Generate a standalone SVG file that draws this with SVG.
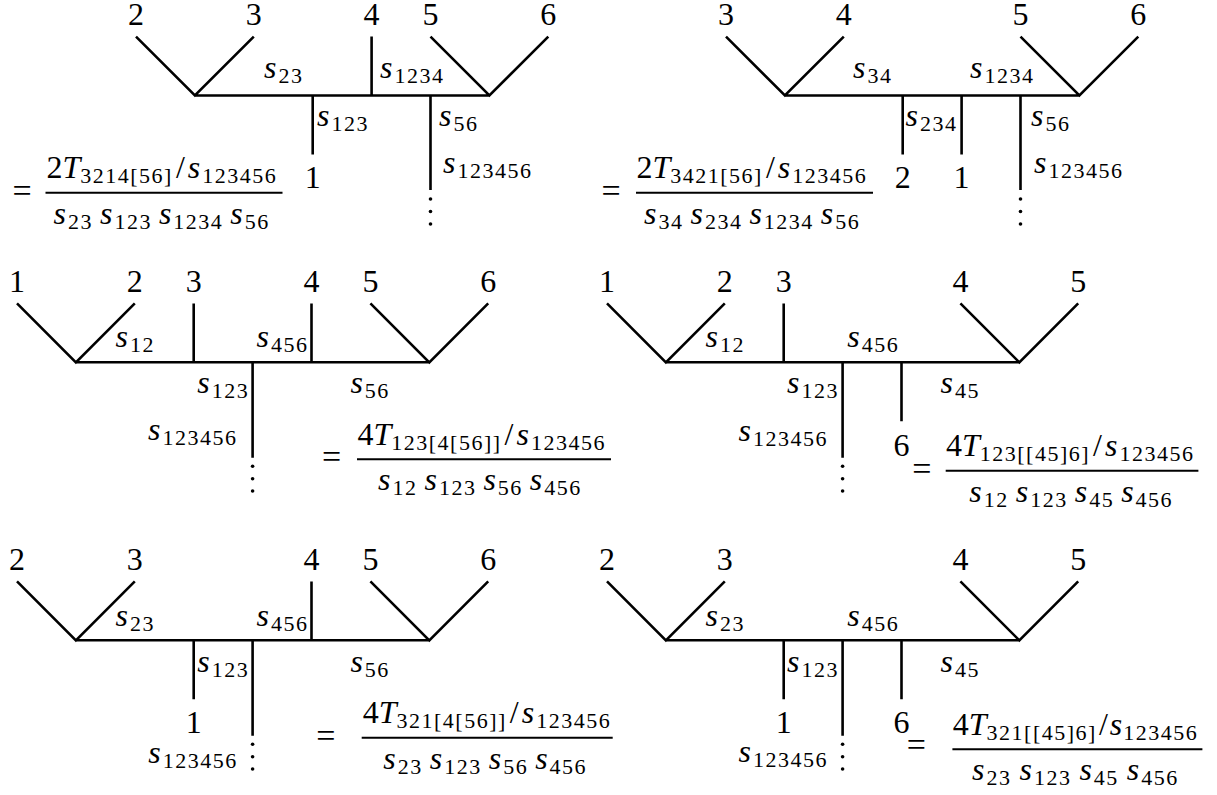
<svg xmlns="http://www.w3.org/2000/svg" width="1217" height="795" viewBox="0 0 1217 795">
<style>
.ln{stroke:#000;stroke-width:2.6;fill:none}
.bar{stroke:#000;stroke-width:2;fill:none}
.dot{fill:#000}
</style>
<rect width="1217" height="795" fill="#fff"/>
<g id="connectors">
<path class="ln" d="M136,36.6 L194.9,95.5 L253.8,36.6 M194.9,95.5 H489.4 M371.6,36.6 V95.5 M430.5,36.6 L489.4,95.5 L548.3,36.6 M312.7,95.5 V154.4 M430.5,95.5 V190"/>
<path class="ln" d="M726,36.6 L784.9,95.5 L843.8,36.6 M784.9,95.5 H1079.4 M1020.5,36.6 L1079.4,95.5 L1138.3,36.6 M902.7,95.5 V154.4 M961.6,95.5 V154.4 M1020.5,95.5 V190"/>
<path class="ln" d="M17,303.4 L75.9,362.3 L134.8,303.4 M75.9,362.3 H429.3 M193.7,303.4 V362.3 M311.5,303.4 V362.3 M370.4,303.4 L429.3,362.3 L488.2,303.4 M252.6,362.3 V457.7"/>
<path class="ln" d="M607,303.4 L665.9,362.3 L724.8,303.4 M665.9,362.3 H1019.3 M783.7,303.4 V362.3 M960.4,303.4 L1019.3,362.3 L1078.2,303.4 M842.6,362.3 V457.7 M901.5,362.3 V421.2"/>
<path class="ln" d="M17,581.4 L75.9,640.3 L134.8,581.4 M75.9,640.3 H429.3 M311.5,581.4 V640.3 M370.4,581.4 L429.3,640.3 L488.2,581.4 M193.7,640.3 V699.2 M252.6,640.3 V735.7"/>
<path class="ln" d="M607,581.4 L665.9,640.3 L724.8,581.4 M665.9,640.3 H1019.3 M960.4,581.4 L1019.3,640.3 L1078.2,581.4 M783.7,640.3 V699.2 M842.6,640.3 V735.7 M901.5,640.3 V699.2"/>
<circle class="dot" cx="430.5" cy="199" r="1.8"/><circle class="dot" cx="430.5" cy="211.5" r="1.8"/><circle class="dot" cx="430.5" cy="224" r="1.8"/>
<circle class="dot" cx="1020.5" cy="199" r="1.8"/><circle class="dot" cx="1020.5" cy="211.5" r="1.8"/><circle class="dot" cx="1020.5" cy="224" r="1.8"/>
<circle class="dot" cx="252.6" cy="466.3" r="1.8"/><circle class="dot" cx="252.6" cy="478.7" r="1.8"/><circle class="dot" cx="252.6" cy="491" r="1.8"/>
<circle class="dot" cx="842.6" cy="466.3" r="1.8"/><circle class="dot" cx="842.6" cy="478.7" r="1.8"/><circle class="dot" cx="842.6" cy="491" r="1.8"/>
<circle class="dot" cx="252.6" cy="744.3" r="1.8"/><circle class="dot" cx="252.6" cy="756.7" r="1.8"/><circle class="dot" cx="252.6" cy="769" r="1.8"/>
<circle class="dot" cx="842.6" cy="744.3" r="1.8"/><circle class="dot" cx="842.6" cy="756.7" r="1.8"/><circle class="dot" cx="842.6" cy="769" r="1.8"/>
<line class="bar" x1="45.5" y1="192.7" x2="282.5" y2="192.7"/>
<line class="bar" x1="636" y1="192.7" x2="873" y2="192.7"/>
<line class="bar" x1="357" y1="459.3" x2="611" y2="459.3"/>
<line class="bar" x1="945.7" y1="470.7" x2="1198.4" y2="470.7"/>
<line class="bar" x1="361.7" y1="737.7" x2="612.7" y2="737.7"/>
<line class="bar" x1="952.4" y1="749.3" x2="1202.4" y2="749.3"/>
</g>
<g id="panel1">
<text x="136" y="25" font-family="Liberation Serif" font-size="32" text-anchor="middle">2</text>
<text x="253.8" y="25" font-family="Liberation Serif" font-size="32" text-anchor="middle">3</text>
<text x="371.6" y="25" font-family="Liberation Serif" font-size="32" text-anchor="middle">4</text>
<text x="430.5" y="25" font-family="Liberation Serif" font-size="32" text-anchor="middle">5</text>
<text x="548.3" y="25" font-family="Liberation Serif" font-size="32" text-anchor="middle">6</text>
<text x="312.7" y="188" font-family="Liberation Serif" font-size="32" text-anchor="middle">1</text>
<text x="264" y="78" font-family="Liberation Serif" font-size="32"><tspan font-style="italic">s</tspan><tspan font-size="22" dx="2" dy="5" letter-spacing="1.5">23</tspan></text>
<text x="380" y="78" font-family="Liberation Serif" font-size="32"><tspan font-style="italic">s</tspan><tspan font-size="22" dx="2" dy="5" letter-spacing="1.5">1234</tspan></text>
<text x="317" y="126" font-family="Liberation Serif" font-size="32"><tspan font-style="italic">s</tspan><tspan font-size="22" dx="2" dy="5" letter-spacing="1.5">123</tspan></text>
<text x="439" y="126" font-family="Liberation Serif" font-size="32"><tspan font-style="italic">s</tspan><tspan font-size="22" dx="2" dy="5" letter-spacing="1.5">56</tspan></text>
<text x="443" y="173" font-family="Liberation Serif" font-size="32"><tspan font-style="italic">s</tspan><tspan font-size="22" dx="2" dy="5" letter-spacing="1.5">123456</tspan></text>
<text x="22" y="201.7" font-family="Liberation Serif" font-size="34" text-anchor="middle">=</text>
<text x="46.5" y="178.2" font-family="Liberation Serif" font-size="32">2<tspan font-style="italic">T</tspan><tspan font-size="22" dy="5" letter-spacing="1.5">3214[56]</tspan><tspan dx="3" dy="-5">/</tspan><tspan font-style="italic" dx="3">s</tspan><tspan font-size="22" dx="2" dy="5" letter-spacing="1.5">123456</tspan></text>
<text x="53.5" y="223.7" font-family="Liberation Serif" font-size="32"><tspan font-style="italic">s</tspan><tspan font-size="22" dx="2" dy="5" letter-spacing="1.5">23</tspan><tspan font-style="italic" dx="7" dy="-5">s</tspan><tspan font-size="22" dx="2" dy="5" letter-spacing="1.5">123</tspan><tspan font-style="italic" dx="7" dy="-5">s</tspan><tspan font-size="22" dx="2" dy="5" letter-spacing="1.5">1234</tspan><tspan font-style="italic" dx="7" dy="-5">s</tspan><tspan font-size="22" dx="2" dy="5" letter-spacing="1.5">56</tspan></text>
</g>
<g id="panel2">
<text x="726" y="25" font-family="Liberation Serif" font-size="32" text-anchor="middle">3</text>
<text x="843.8" y="25" font-family="Liberation Serif" font-size="32" text-anchor="middle">4</text>
<text x="1020.5" y="25" font-family="Liberation Serif" font-size="32" text-anchor="middle">5</text>
<text x="1138.3" y="25" font-family="Liberation Serif" font-size="32" text-anchor="middle">6</text>
<text x="902.7" y="188" font-family="Liberation Serif" font-size="32" text-anchor="middle">2</text>
<text x="961.6" y="188" font-family="Liberation Serif" font-size="32" text-anchor="middle">1</text>
<text x="853" y="78" font-family="Liberation Serif" font-size="32"><tspan font-style="italic">s</tspan><tspan font-size="22" dx="2" dy="5" letter-spacing="1.5">34</tspan></text>
<text x="970" y="78" font-family="Liberation Serif" font-size="32"><tspan font-style="italic">s</tspan><tspan font-size="22" dx="2" dy="5" letter-spacing="1.5">1234</tspan></text>
<text x="905.5" y="126" font-family="Liberation Serif" font-size="32"><tspan font-style="italic">s</tspan><tspan font-size="22" dx="2" dy="5" letter-spacing="1.5">234</tspan></text>
<text x="1031" y="126" font-family="Liberation Serif" font-size="32"><tspan font-style="italic">s</tspan><tspan font-size="22" dx="2" dy="5" letter-spacing="1.5">56</tspan></text>
<text x="1034" y="173" font-family="Liberation Serif" font-size="32"><tspan font-style="italic">s</tspan><tspan font-size="22" dx="2" dy="5" letter-spacing="1.5">123456</tspan></text>
<text x="611" y="201.7" font-family="Liberation Serif" font-size="34" text-anchor="middle">=</text>
<text x="636.5" y="178.2" font-family="Liberation Serif" font-size="32">2<tspan font-style="italic">T</tspan><tspan font-size="22" dy="5" letter-spacing="1.5">3421[56]</tspan><tspan dx="3" dy="-5">/</tspan><tspan font-style="italic" dx="3">s</tspan><tspan font-size="22" dx="2" dy="5" letter-spacing="1.5">123456</tspan></text>
<text x="644" y="223.7" font-family="Liberation Serif" font-size="32"><tspan font-style="italic">s</tspan><tspan font-size="22" dx="2" dy="5" letter-spacing="1.5">34</tspan><tspan font-style="italic" dx="7" dy="-5">s</tspan><tspan font-size="22" dx="2" dy="5" letter-spacing="1.5">234</tspan><tspan font-style="italic" dx="7" dy="-5">s</tspan><tspan font-size="22" dx="2" dy="5" letter-spacing="1.5">1234</tspan><tspan font-style="italic" dx="7" dy="-5">s</tspan><tspan font-size="22" dx="2" dy="5" letter-spacing="1.5">56</tspan></text>
</g>
<g id="panel3">
<text x="17" y="292" font-family="Liberation Serif" font-size="32" text-anchor="middle">1</text>
<text x="134.8" y="292" font-family="Liberation Serif" font-size="32" text-anchor="middle">2</text>
<text x="193.7" y="292" font-family="Liberation Serif" font-size="32" text-anchor="middle">3</text>
<text x="311.5" y="292" font-family="Liberation Serif" font-size="32" text-anchor="middle">4</text>
<text x="370.4" y="292" font-family="Liberation Serif" font-size="32" text-anchor="middle">5</text>
<text x="488.2" y="292" font-family="Liberation Serif" font-size="32" text-anchor="middle">6</text>
<text x="115.6" y="346.5" font-family="Liberation Serif" font-size="32"><tspan font-style="italic">s</tspan><tspan font-size="22" dx="2" dy="5" letter-spacing="1.5">12</tspan></text>
<text x="256.5" y="346.5" font-family="Liberation Serif" font-size="32"><tspan font-style="italic">s</tspan><tspan font-size="22" dx="2" dy="5" letter-spacing="1.5">456</tspan></text>
<text x="197.3" y="392.5" font-family="Liberation Serif" font-size="32"><tspan font-style="italic">s</tspan><tspan font-size="22" dx="2" dy="5" letter-spacing="1.5">123</tspan></text>
<text x="350.4" y="392.5" font-family="Liberation Serif" font-size="32"><tspan font-style="italic">s</tspan><tspan font-size="22" dx="2" dy="5" letter-spacing="1.5">56</tspan></text>
<text x="148" y="440" font-family="Liberation Serif" font-size="32"><tspan font-style="italic">s</tspan><tspan font-size="22" dx="2" dy="5" letter-spacing="1.5">123456</tspan></text>
<text x="331.7" y="468.3" font-family="Liberation Serif" font-size="34" text-anchor="middle">=</text>
<text x="357.5" y="444.8" font-family="Liberation Serif" font-size="32">4<tspan font-style="italic">T</tspan><tspan font-size="22" dy="5" letter-spacing="1.5">123[4[56]]</tspan><tspan dx="3" dy="-5">/</tspan><tspan font-style="italic" dx="3">s</tspan><tspan font-size="22" dx="2" dy="5" letter-spacing="1.5">123456</tspan></text>
<text x="378" y="490.3" font-family="Liberation Serif" font-size="32"><tspan font-style="italic">s</tspan><tspan font-size="22" dx="2" dy="5" letter-spacing="1.5">12</tspan><tspan font-style="italic" dx="7" dy="-5">s</tspan><tspan font-size="22" dx="2" dy="5" letter-spacing="1.5">123</tspan><tspan font-style="italic" dx="7" dy="-5">s</tspan><tspan font-size="22" dx="2" dy="5" letter-spacing="1.5">56</tspan><tspan font-style="italic" dx="7" dy="-5">s</tspan><tspan font-size="22" dx="2" dy="5" letter-spacing="1.5">456</tspan></text>
</g>
<g id="panel4">
<text x="607" y="292" font-family="Liberation Serif" font-size="32" text-anchor="middle">1</text>
<text x="724.8" y="292" font-family="Liberation Serif" font-size="32" text-anchor="middle">2</text>
<text x="783.7" y="292" font-family="Liberation Serif" font-size="32" text-anchor="middle">3</text>
<text x="960.4" y="292" font-family="Liberation Serif" font-size="32" text-anchor="middle">4</text>
<text x="1078.2" y="292" font-family="Liberation Serif" font-size="32" text-anchor="middle">5</text>
<text x="901.5" y="455.5" font-family="Liberation Serif" font-size="32" text-anchor="middle">6</text>
<text x="705.5" y="346.5" font-family="Liberation Serif" font-size="32"><tspan font-style="italic">s</tspan><tspan font-size="22" dx="2" dy="5" letter-spacing="1.5">12</tspan></text>
<text x="847.2" y="346.5" font-family="Liberation Serif" font-size="32"><tspan font-style="italic">s</tspan><tspan font-size="22" dx="2" dy="5" letter-spacing="1.5">456</tspan></text>
<text x="787" y="392.5" font-family="Liberation Serif" font-size="32"><tspan font-style="italic">s</tspan><tspan font-size="22" dx="2" dy="5" letter-spacing="1.5">123</tspan></text>
<text x="940.6" y="392.5" font-family="Liberation Serif" font-size="32"><tspan font-style="italic">s</tspan><tspan font-size="22" dx="2" dy="5" letter-spacing="1.5">45</tspan></text>
<text x="738.6" y="440.5" font-family="Liberation Serif" font-size="32"><tspan font-style="italic">s</tspan><tspan font-size="22" dx="2" dy="5" letter-spacing="1.5">123456</tspan></text>
<text x="921.8" y="479.7" font-family="Liberation Serif" font-size="34" text-anchor="middle">=</text>
<text x="946" y="456.2" font-family="Liberation Serif" font-size="32">4<tspan font-style="italic">T</tspan><tspan font-size="22" dy="5" letter-spacing="1.5">123[[45]6]</tspan><tspan dx="3" dy="-5">/</tspan><tspan font-style="italic" dx="3">s</tspan><tspan font-size="22" dx="2" dy="5" letter-spacing="1.5">123456</tspan></text>
<text x="969.3" y="501.7" font-family="Liberation Serif" font-size="32"><tspan font-style="italic">s</tspan><tspan font-size="22" dx="2" dy="5" letter-spacing="1.5">12</tspan><tspan font-style="italic" dx="7" dy="-5">s</tspan><tspan font-size="22" dx="2" dy="5" letter-spacing="1.5">123</tspan><tspan font-style="italic" dx="7" dy="-5">s</tspan><tspan font-size="22" dx="2" dy="5" letter-spacing="1.5">45</tspan><tspan font-style="italic" dx="7" dy="-5">s</tspan><tspan font-size="22" dx="2" dy="5" letter-spacing="1.5">456</tspan></text>
</g>
<g id="panel5">
<text x="17" y="570" font-family="Liberation Serif" font-size="32" text-anchor="middle">2</text>
<text x="134.8" y="570" font-family="Liberation Serif" font-size="32" text-anchor="middle">3</text>
<text x="311.5" y="570" font-family="Liberation Serif" font-size="32" text-anchor="middle">4</text>
<text x="370.4" y="570" font-family="Liberation Serif" font-size="32" text-anchor="middle">5</text>
<text x="488.2" y="570" font-family="Liberation Serif" font-size="32" text-anchor="middle">6</text>
<text x="193.7" y="733" font-family="Liberation Serif" font-size="32" text-anchor="middle">1</text>
<text x="115.6" y="626" font-family="Liberation Serif" font-size="32"><tspan font-style="italic">s</tspan><tspan font-size="22" dx="2" dy="5" letter-spacing="1.5">23</tspan></text>
<text x="256.5" y="626" font-family="Liberation Serif" font-size="32"><tspan font-style="italic">s</tspan><tspan font-size="22" dx="2" dy="5" letter-spacing="1.5">456</tspan></text>
<text x="197.3" y="672" font-family="Liberation Serif" font-size="32"><tspan font-style="italic">s</tspan><tspan font-size="22" dx="2" dy="5" letter-spacing="1.5">123</tspan></text>
<text x="350.4" y="672" font-family="Liberation Serif" font-size="32"><tspan font-style="italic">s</tspan><tspan font-size="22" dx="2" dy="5" letter-spacing="1.5">56</tspan></text>
<text x="148.3" y="763" font-family="Liberation Serif" font-size="32"><tspan font-style="italic">s</tspan><tspan font-size="22" dx="2" dy="5" letter-spacing="1.5">123456</tspan></text>
<text x="325.8" y="746.7" font-family="Liberation Serif" font-size="34" text-anchor="middle">=</text>
<text x="362.7" y="723.2" font-family="Liberation Serif" font-size="32">4<tspan font-style="italic">T</tspan><tspan font-size="22" dy="5" letter-spacing="1.5">321[4[56]]</tspan><tspan dx="3" dy="-5">/</tspan><tspan font-style="italic" dx="3">s</tspan><tspan font-size="22" dx="2" dy="5" letter-spacing="1.5">123456</tspan></text>
<text x="383.3" y="768.7" font-family="Liberation Serif" font-size="32"><tspan font-style="italic">s</tspan><tspan font-size="22" dx="2" dy="5" letter-spacing="1.5">23</tspan><tspan font-style="italic" dx="7" dy="-5">s</tspan><tspan font-size="22" dx="2" dy="5" letter-spacing="1.5">123</tspan><tspan font-style="italic" dx="7" dy="-5">s</tspan><tspan font-size="22" dx="2" dy="5" letter-spacing="1.5">56</tspan><tspan font-style="italic" dx="7" dy="-5">s</tspan><tspan font-size="22" dx="2" dy="5" letter-spacing="1.5">456</tspan></text>
</g>
<g id="panel6">
<text x="607" y="570" font-family="Liberation Serif" font-size="32" text-anchor="middle">2</text>
<text x="724.8" y="570" font-family="Liberation Serif" font-size="32" text-anchor="middle">3</text>
<text x="960.4" y="570" font-family="Liberation Serif" font-size="32" text-anchor="middle">4</text>
<text x="1078.2" y="570" font-family="Liberation Serif" font-size="32" text-anchor="middle">5</text>
<text x="783.7" y="733" font-family="Liberation Serif" font-size="32" text-anchor="middle">1</text>
<text x="901.5" y="733" font-family="Liberation Serif" font-size="32" text-anchor="middle">6</text>
<text x="705.5" y="626" font-family="Liberation Serif" font-size="32"><tspan font-style="italic">s</tspan><tspan font-size="22" dx="2" dy="5" letter-spacing="1.5">23</tspan></text>
<text x="847.2" y="626" font-family="Liberation Serif" font-size="32"><tspan font-style="italic">s</tspan><tspan font-size="22" dx="2" dy="5" letter-spacing="1.5">456</tspan></text>
<text x="787" y="672" font-family="Liberation Serif" font-size="32"><tspan font-style="italic">s</tspan><tspan font-size="22" dx="2" dy="5" letter-spacing="1.5">123</tspan></text>
<text x="940.6" y="672" font-family="Liberation Serif" font-size="32"><tspan font-style="italic">s</tspan><tspan font-size="22" dx="2" dy="5" letter-spacing="1.5">45</tspan></text>
<text x="738.6" y="762" font-family="Liberation Serif" font-size="32"><tspan font-style="italic">s</tspan><tspan font-size="22" dx="2" dy="5" letter-spacing="1.5">123456</tspan></text>
<text x="916.3" y="756.3" font-family="Liberation Serif" font-size="34" text-anchor="middle">=</text>
<text x="952.8" y="734.8" font-family="Liberation Serif" font-size="32">4<tspan font-style="italic">T</tspan><tspan font-size="22" dy="5" letter-spacing="1.5">321[[45]6]</tspan><tspan dx="2" dy="-5">/</tspan><tspan font-style="italic" dx="2">s</tspan><tspan font-size="22" dx="1" dy="5" letter-spacing="1.5">123456</tspan></text>
<text x="972" y="780" font-family="Liberation Serif" font-size="32"><tspan font-style="italic">s</tspan><tspan font-size="22" dx="2" dy="5" letter-spacing="1.5">23</tspan><tspan font-style="italic" dx="8" dy="-5">s</tspan><tspan font-size="22" dx="2" dy="5" letter-spacing="1.5">123</tspan><tspan font-style="italic" dx="8" dy="-5">s</tspan><tspan font-size="22" dx="2" dy="5" letter-spacing="1.5">45</tspan><tspan font-style="italic" dx="8" dy="-5">s</tspan><tspan font-size="22" dx="2" dy="5" letter-spacing="1.5">456</tspan></text>
</g>
</svg>
